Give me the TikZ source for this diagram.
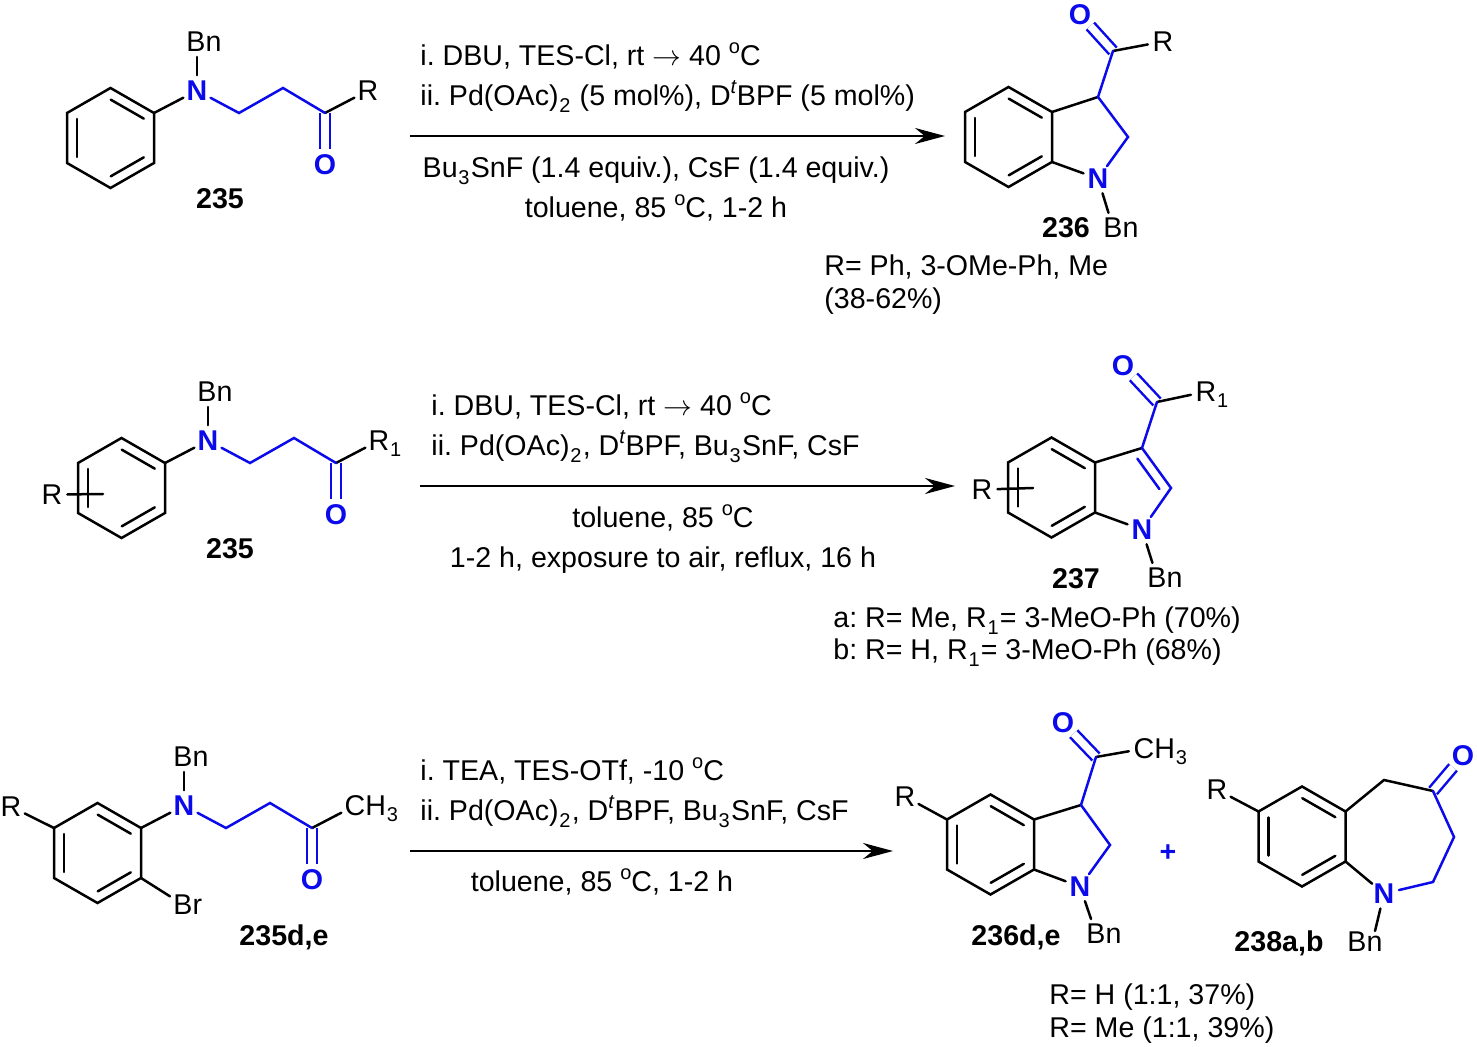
\documentclass[tikz,border=0pt]{standalone}
\usepackage{fontspec}
\setmainfont{Liberation Sans}
\usepackage{xcolor}
\usetikzlibrary{arrows.meta, calc}
\definecolor{bondblue}{RGB}{10, 10, 235}
\newcommand{\chemfont}{\fontsize{14.3}{17}\selectfont\frenchspacing}
\newcommand{\atomsub}[1]{\smash{\rlap{#1}}}
\newcommand{\csub}[1]{\kern.4pt\raisebox{-3.2pt}{\fontsize{10}{12}\selectfont #1}\kern.6pt\relax}
\newcommand{\csup}[1]{\raisebox{6pt}{\fontsize{10}{12}\selectfont #1}}
% inner line of a double bond, a to b running clockwise round the ring
\newcommand{\innerbond}[3][bond]{\draw[#1] ($(#2)!.12!(#3)!5pt!-90:(#3)$) -- ($(#3)!.12!(#2)!5pt!90:(#2)$);}
% benzene ring from its centre, corners #1a to #1f clockwise from the top
\newcommand{\arene}[2]{%
    \begin{scope}[shift={(#2)}]
        \coordinate (#1a) at (0,-50);
        \coordinate (#1b) at (43.5,-25);
        \coordinate (#1c) at (43.5,25);
        \coordinate (#1d) at (0,50);
        \coordinate (#1e) at (-43.5,25);
        \coordinate (#1f) at (-43.5,-25);
    \end{scope}
    \draw[bond] (#1a) -- (#1b) -- (#1c) -- (#1d) -- (#1e) -- (#1f) -- cycle;
    \innerbond{#1a}{#1b}
    \innerbond{#1c}{#1d}
    \innerbond{#1e}{#1f}
}

\begin{document}
\begin{tikzpicture}[
    x=0.5pt, y=-0.5pt,
    every node/.style={font=\chemfont, inner sep=0pt},
    bond/.style={line width=1.25pt, line cap=round, black},
    bluebond/.style={bond, bondblue},
    carbonyl/.style={line width=1.25pt, draw=bondblue, double, double distance=3.75pt},
    atom/.style={circle, minimum size=15pt, yshift=-.3pt},
    hetero/.style={atom, text=bondblue, font=\chemfont\bfseries},
    cmpd/.style={font=\chemfont\bfseries, yshift=-.4pt},
    txt/.style={anchor=base west, yshift=-.4pt},
    ctr/.style={anchor=base, yshift=-.4pt},
    rxn/.style={line width=1.25pt, -{Stealth[length=15pt, width=8pt]}}
]
    \useasboundingbox (0,0) rectangle (1477,1047);

    % Top row: 235 to 236
    \arene{pa}{110.5,138}
    \node[hetero] (na) at (197,90) {N};
    \node[atom] (bna) at (196,41) {B\atomsub{n}};
    \node[atom] (ra) at (368,90) {R};
    \node[hetero] (oa) at (325,164) {O};
    \coordinate (caa) at (239,113);
    \coordinate (cab) at (283,88);
    \coordinate (cac) at (325,113);
    \draw[carbonyl] (cac) -- (oa);
    \draw[bond] (pab) -- (na);
    \draw[bond] (na) -- (na |- bna.south);
    \draw[bond] (cac) -- (ra);
    \draw[bluebond] (na) -- (caa) -- (cab) -- (cac);
    \node[cmpd] (la) at (220,198) {235};

    \coordinate (astart) at (410,136);
    \coordinate (aend) at (945,136);
    \draw[rxn] (astart) -- (aend);
    \node[txt] (ta) at (420,65) {i. DBU, TES-Cl, rt $\rightarrow$ 40 \csup{o}C};
    \node[txt] (tb) at (420,105) {ii. Pd(OAc)\csub{2} (5 mol\%), D\csup{\textit{t}}BPF (5 mol\%)};
    \node[ctr] (tc) at (656,177) {Bu\csub{3}SnF (1.4 equiv.), CsF (1.4 equiv.)};
    \node[ctr] (td) at (656,217) {toluene, 85 \csup{o}C, 1-2 h};

    \arene{pb}{1008.5,137}
    \node[hetero] (nb) at (1098,178) {N};
    \node[atom] (bnb) at (1113,227) {B\atomsub{n}};
    \node[atom] (rb) at (1163,41) {R};
    \node[hetero] (ob) at (1080,14) {O};
    \coordinate (cba) at (1098,97);
    \coordinate (cbb) at (1128,137);
    \coordinate (cbc) at (1113,51);
    \draw[carbonyl] (cbc) -- (ob);
    \draw[bond] (pbb) -- (cba);
    \draw[bond] (pbc) -- (nb);
    \draw[bond] (nb) -- (bnb);
    \draw[bond] (cbc) -- (rb);
    \draw[bluebond] (cbc) -- (cba) -- (cbb) -- (nb);
    \node[cmpd] (lb) at (1066,227) {236};
    \node[txt] (na1) at (824,275) {R= Ph, 3-OMe-Ph, Me};
    \node[txt] (na2) at (824,308) {(38-62\%)};

    % Middle row: 235 to 237
    \arene{pc}{121.5,488}
    \node[hetero] (nc) at (208,440) {N};
    \node[atom] (bnc) at (207,391) {B\atomsub{n}};
    \node[atom] (rc) at (379,440) {R\atomsub{\csub{1}}};
    \node[hetero] (oc) at (336,514) {O};
    \node[atom] (rd) at (52,494) {R};
    \coordinate (cca) at (250,463);
    \coordinate (ccb) at (294,438);
    \coordinate (ccc) at (336,463);
    \coordinate (rde) at (103,494);
    \draw[carbonyl] (ccc) -- (oc);
    \draw[bond] (pcb) -- (nc);
    \draw[bond] (nc) -- (nc |- bnc.south);
    \draw[bond] (ccc) -- (rc);
    \draw[bond] (rd) -- (rde);
    \draw[bluebond] (nc) -- (cca) -- (ccb) -- (ccc);
    \node[cmpd] (lc) at (230,548) {235};

    \coordinate (bstart) at (420,486);
    \coordinate (bend) at (955,486);
    \draw[rxn] (bstart) -- (bend);
    \node[txt] (te) at (431,415) {i. DBU, TES-Cl, rt $\rightarrow$ 40 \csup{o}C};
    \node[txt] (tf) at (431,455) {ii. Pd(OAc)\csub{2}, D\csup{\textit{t}}BPF, Bu\csub{3}SnF, CsF};
    \node[ctr] (tg) at (663,527) {toluene, 85 \csup{o}C};
    \node[ctr] (th) at (663,567) {1-2 h, exposure to air, reflux, 16 h};

    \arene{pd}{1051.5,487.5}
    \node[hetero] (ne) at (1142,529) {N};
    \node[atom] (bne) at (1157,577) {B\atomsub{n}};
    \node[atom] (re) at (1206,391) {R\atomsub{\csub{1}}};
    \node[hetero] (oe) at (1123,365) {O};
    \node[atom] (rf) at (982,489) {R};
    \coordinate (cea) at (1142,448);
    \coordinate (ceb) at (1171,488);
    \coordinate (cec) at (1157,402);
    \coordinate (rfe) at (1033,488);
    \draw[carbonyl] (cec) -- (oe);
    \draw[bond] (pdb) -- (cea);
    \draw[bond] (pdc) -- (ne);
    \draw[bond] (ne) -- (bne);
    \draw[bond] (cec) -- (re);
    \draw[bond] (rf) -- (rfe);
    \draw[bluebond] (cec) -- (cea) -- (ceb) -- (ne);
    \innerbond[bluebond]{cea}{ceb}
    \node[cmpd] (ld) at (1076,578) {237};
    \node[txt] (nb1) at (833,627) {a: R= Me, R\csub{1}= 3-MeO-Ph (70\%)};
    \node[txt] (nb2) at (833,659) {b: R= H, R\csub{1}= 3-MeO-Ph (68\%)};

    % Bottom row: 235d,e to 236d,e and 238a,b
    \arene{pe}{97.5,853}
    \node[hetero] (ng) at (184,805) {N};
    \node[atom] (bng) at (183,756) {B\atomsub{n}};
    \node[atom] (cg) at (355,805) {C\atomsub{H\csub{3}}};
    \node[hetero] (og) at (312,879) {O};
    \node[atom] (rg) at (11,806) {R};
    \node[atom] (brg) at (183,904) {B\atomsub{r}};
    \coordinate (cga) at (226,828);
    \coordinate (cgb) at (270,803);
    \coordinate (cgc) at (312,828);
    \draw[carbonyl] (cgc) -- (og);
    \draw[bond] (peb) -- (ng);
    \draw[bond] (ng) -- (ng |- bng.south);
    \draw[bond] (cgc) -- (cg);
    \draw[bond] (pef) -- (rg);
    \draw[bond] (pec) -- (brg);
    \draw[bluebond] (ng) -- (cga) -- (cgb) -- (cgc);
    \node[cmpd] (le) at (284,937) {235d,e};

    \coordinate (cstart) at (410,851);
    \coordinate (cend) at (893,851);
    \draw[rxn] (cstart) -- (cend);
    \node[txt] (ti) at (420,780) {i. TEA, TES-OTf, -10 \csup{o}C};
    \node[txt] (tj) at (420,820) {ii. Pd(OAc)\csub{2}, D\csup{\textit{t}}BPF, Bu\csub{3}SnF, CsF};
    \node[ctr] (tk) at (602,891) {toluene, 85 \csup{o}C, 1-2 h};

    \arene{pf}{990.5,844.5}
    \node[hetero] (nh) at (1080,886) {N};
    \node[atom] (bnh) at (1096,933) {B\atomsub{n}};
    \node[atom] (ch) at (1144,748) {C\atomsub{H\csub{3}}};
    \node[hetero] (oh) at (1063,722) {O};
    \node[atom] (rh) at (905,796) {R};
    \coordinate (cha) at (1081,805);
    \coordinate (chb) at (1110,845);
    \coordinate (chc) at (1096,757);
    \draw[carbonyl] (chc) -- (oh);
    \draw[bond] (pfb) -- (cha);
    \draw[bond] (pfc) -- (nh);
    \draw[bond] (nh) -- (bnh);
    \draw[bond] (chc) -- (ch);
    \draw[bond] (pff) -- (rh);
    \draw[bluebond] (chc) -- (cha) -- (chb) -- (nh);
    \node[cmpd] (lf) at (1016,937) {236d,e};
    \node[hetero] (plus) at (1168,853) {+};

    \arene{pg}{1302,836.5}
    \node[hetero] (ni) at (1384,893) {N};
    \node[atom] (bni) at (1357,941) {B\atomsub{n}};
    \node[atom] (ri) at (1217,789) {R};
    \node[hetero] (oi) at (1463,755) {O};
    \coordinate (cia) at (1384,780);
    \coordinate (cib) at (1433,791);
    \coordinate (cic) at (1454,837);
    \coordinate (cid) at (1433,882);
    \coordinate (bnie) at (1375,931);
    \draw[carbonyl] (cib) -- (oi);
    \draw[bond] (pgb) -- (cia) -- (cib);
    \draw[bond] (pgc) -- (ni);
    \draw[bond] (ni) -- (bnie);
    \draw[bond] (pgf) -- (ri);
    \draw[bluebond] (cib) -- (cic) -- (cid) -- (ni);
    \node[cmpd] (lg) at (1279,943) {238a,b};
    \node[txt] (nc1) at (1049,1004) {R= H (1:1, 37\%)};
    \node[txt] (nc2) at (1049,1037) {R= Me (1:1, 39\%)};
\end{tikzpicture}
\end{document}
